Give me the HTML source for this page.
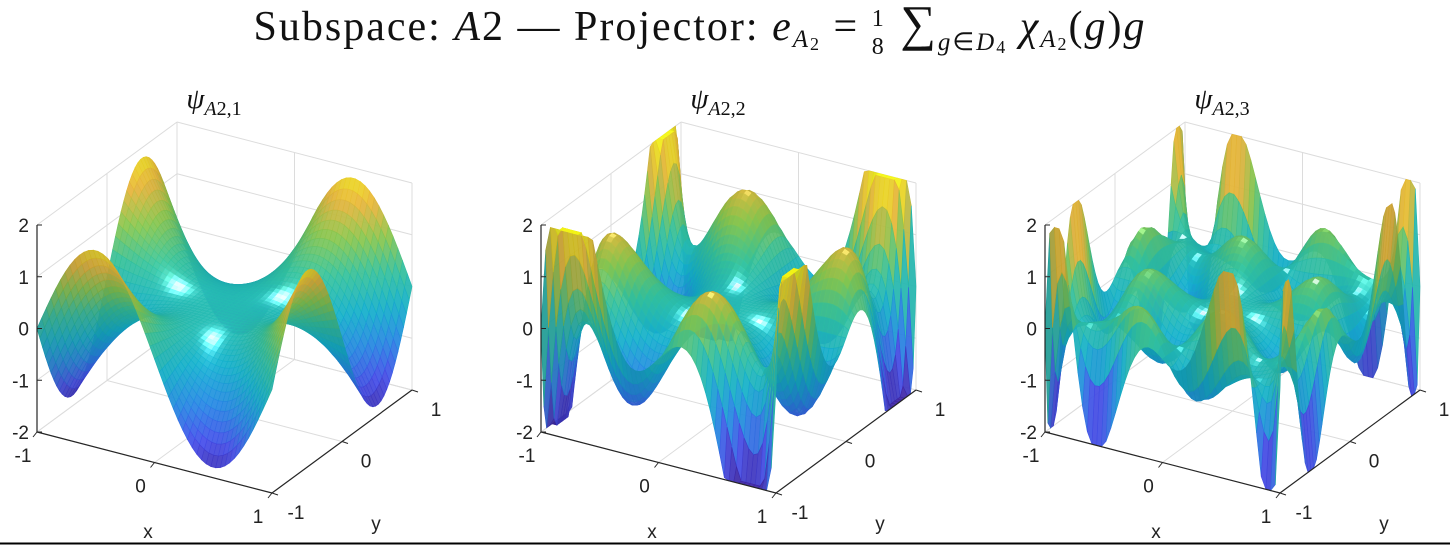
<!DOCTYPE html>
<html><head><meta charset="utf-8"><style>
body{margin:0;background:#fff;width:1450px;height:546px;overflow:hidden;}
svg{display:block}
.t{font-family:"Liberation Sans",sans-serif;font-size:19px;fill:#222}
.s{font-family:"Liberation Serif",serif;fill:#111}
</style></head><body>
<svg id="c" width="1450" height="546">
<text class="s" x="700" y="40" font-size="42" text-anchor="middle" letter-spacing="2">Subspace:  <tspan font-style="italic">A</tspan>2 — Projector:  <tspan font-style="italic">e</tspan><tspan font-size="25" dy="7" font-style="italic">A</tspan><tspan font-size="18" dy="3">2</tspan><tspan dy="-10"> = </tspan><tspan font-size="24" dy="-14">1</tspan><tspan font-size="24" dx="-14" dy="28">8</tspan><tspan dy="-14" font-size="50"> ∑</tspan><tspan font-size="25" dy="10" font-style="italic">g</tspan><tspan font-size="25">∈</tspan><tspan font-size="25" font-style="italic">D</tspan><tspan font-size="18" dy="3">4</tspan><tspan dy="-13">  </tspan><tspan font-style="italic">χ</tspan><tspan font-size="25" dy="7" font-style="italic">A</tspan><tspan font-size="18" dy="3">2</tspan><tspan dy="-10">(</tspan><tspan font-style="italic">g</tspan><tspan>)</tspan><tspan font-style="italic">g</tspan></text>
<line x1="0" y1="543.5" x2="1450" y2="543.5" stroke="#000" stroke-width="2"/>
</svg>
<script>
const panelIds=[1,2,3];
const amps=[1.8,3.2,3.0];
const degA=[0,1,3];
const degB=[0,5,7];
const zTicks=[-2,-1,0,1,2];
const xTicks=[-1,0,1];
const yTicks=[-1,0,1];
const offsets=[0,504,1008];
const NS='http://www.w3.org/2000/svg';
const svg=document.getElementById('c');
const stops=[[0,[62,38,168]],[0.14,[71,80,242]],[0.28,[39,140,235]],[0.42,[20,182,210]],[0.57,[55,200,160]],[0.71,[140,205,80]],[0.85,[240,186,60]],[1,[249,251,20]]];
function cmap(t){t=Math.max(0,Math.min(1,t));for(let i=1;i<stops.length;i++){if(t<=stops[i][0]){const a=stops[i-1],b=stops[i];const f=(t-a[0])/(b[0]-a[0]);return a[1].map((v,k)=>Math.round(v+(b[1][k]-v)*f));}}return stops[stops.length-1][1];}
function leg(n,x){let p0=1,p1=x;if(n===0)return 1;for(let k=1;k<n;k++){const p2=((2*k+1)*x*p1-k*p0)/(k+1);p0=p1;p1=p2;}return p1;}
function mk(tag,attrs,parent){const e=document.createElementNS(NS,tag);for(const k in attrs)e.setAttribute(k,attrs[k]);(parent||svg).appendChild(e);return e;}
panelIds.forEach((pid,pi)=>{
  const ox=offsets[pi];
  const P=(x,y,z)=>[ox+224.5+117.5*x+70*y,307.5+30.5*x-51.5*y-51.75*z];
  const g=mk('g',{});
  
  
  const line=(a,b,st,w,name)=>{const l=mk('line',{x1:a[0],y1:a[1],x2:b[0],y2:b[1],stroke:st,'stroke-width':w},g);return l;};
  zTicks.forEach(z=>{line(P(-1,-1,z),P(-1,1,z),'#dcdcdc',1,'grid-line');line(P(-1,1,z),P(1,1,z),'#dcdcdc',1,'grid-line');});
  yTicks.forEach(y=>{line(P(-1,y,-2),P(-1,y,2),'#dcdcdc',1,'grid-line');line(P(-1,y,-2),P(1,y,-2),'#dcdcdc',1,'grid-line');});
  xTicks.forEach(x=>{line(P(x,1,-2),P(x,1,2),'#dcdcdc',1,'grid-line');line(P(x,-1,-2),P(x,1,-2),'#dcdcdc',1,'grid-line');});
  const A=amps[pi],a=degA[pi],b=degB[pi];
  const f=pi===0?(x,y)=>A*(y*Math.sin(Math.PI*x)-x*Math.sin(Math.PI*y)):(x,y)=>A*(leg(a,x)*leg(b,y)-leg(b,x)*leg(a,y));
  const N=50;const quads=[];const mn=-2,mx=2;
  const Z=[];for(let i=0;i<=N;i++){Z.push([]);for(let j=0;j<=N;j++){const v=f(-1+2*i/N,-1+2*j/N);Z[i].push(Math.max(-2,Math.min(2,v)));}}
  for(let i=0;i<N;i++)for(let j=0;j<N;j++){const x0=-1+2*i/N,x1=-1+2*(i+1)/N,y0=-1+2*j/N,y1=-1+2*(j+1)/N;
    const zs=[Z[i][j],Z[i+1][j],Z[i+1][j+1],Z[i][j+1]];const zm=(zs[0]+zs[1]+zs[2]+zs[3])/4;
    quads.push({d:(y0+y1)/2-(x0+x1)/2,pts:[P(x0,y0,zs[0]),P(x1,y0,zs[1]),P(x1,y1,zs[2]),P(x0,y1,zs[3])],zm,
      nx:-(zs[1]-zs[0]+zs[2]-zs[3])/2/(2/N),ny:-(zs[3]-zs[0]+zs[2]-zs[1])/2/(2/N)});}
  quads.sort((p,q)=>q.d-p.d);
  const sg=mk('g',{},g);
  
  
  quads.forEach(q=>{let c=cmap((q.zm-mn)/(mx-mn));
    const n=Math.hypot(q.nx,q.ny,1);const L=[0.3,-0.5,0.8];const dd=(q.nx*L[0]+q.ny*L[1]+L[2])/(n*Math.hypot(...L));
    const spec=Math.pow(Math.max(0,dd),30)*0.8;c=c.map(v=>Math.round(Math.min(255,v*(0.88+0.12*dd)+255*spec)));
    const col='rgb('+c.join(',')+')';
    const p=mk('polygon',{points:q.pts.map(p=>p[0].toFixed(1)+','+p[1].toFixed(1)).join(' '),fill:col,stroke:col,'stroke-width':0.6,'fill-opacity':0.93},sg);
    
    });
  line(P(-1,-1,-2),P(-1,-1,2),'#262626',1.2,'z-axis');
  line(P(-1,-1,-2),P(1,-1,-2),'#262626',1.2,'x-axis');
  line(P(1,-1,-2),P(1,1,-2),'#262626',1.2,'y-axis');
  const txt=(s,x,y,anchor,name)=>{const t=mk('text',{x:x,y:y,'text-anchor':anchor,class:'t'},g);t.textContent=s;return t;};
  zTicks.forEach(z=>{const p=P(-1,-1,z);line(p,[p[0]+5,p[1]],'#262626',1,'z-tick');txt(String(z),p[0]-8,p[1]+7,'end','z-tick-label');});
  xTicks.forEach(x=>{const p=P(x,-1,-2);line(p,[p[0]-4,p[1]+5],'#262626',1,'x-tick');txt(String(x),p[0]-14,p[1]+30,'middle','x-tick-label');});
  yTicks.forEach(y=>{const p=P(1,y,-2);line(p,[p[0]+6,p[1]+2],'#262626',1,'y-tick');txt(String(y),p[0]+24,p[1]+26,'middle','y-tick-label');});
  txt('x',ox+148,538,'middle','x-axis-title');
  txt('y',ox+376,530,'middle','y-axis-title');
  const tt=mk('text',{x:ox+214,y:108,'text-anchor':'middle',class:'s','font-size':29},g);
  
  
  tt.innerHTML='<tspan font-style="italic">ψ</tspan><tspan font-size="20" dy="7" font-style="italic">A</tspan><tspan font-size="20">2,'+pid+'</tspan>';
});
</script>
</body></html>
